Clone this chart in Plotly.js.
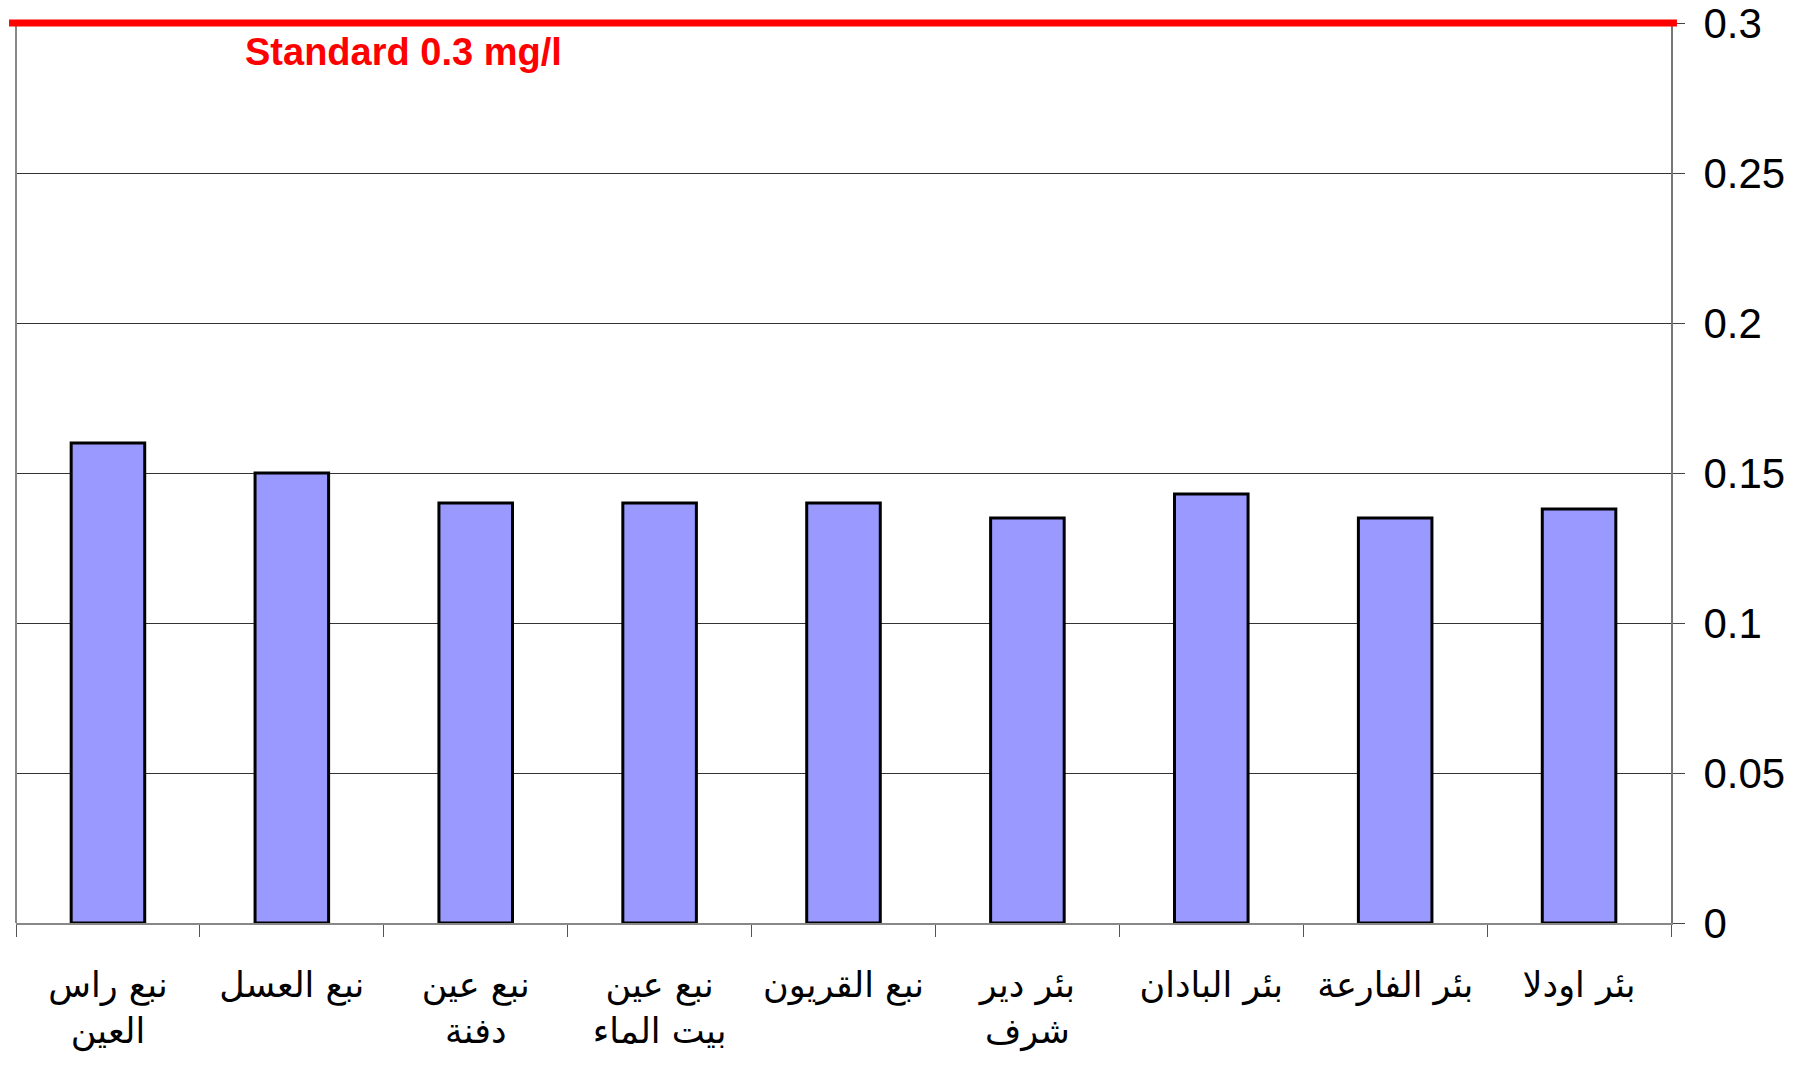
<!DOCTYPE html>
<html>
<head>
<meta charset="utf-8">
<script src="https://cdn.plot.ly/plotly-3.0.1.min.js"></script>
<style>html,body{margin:0;padding:0;background:#fff;}#chart{width:1814px;height:1072px;}</style>
</head>
<body>
<div id="chart"></div>
<script>
const categories = [
  "نبع راس<br>العين",
  "نبع العسل",
  "نبع عين<br>دفنة",
  "نبع عين<br>بيت الماء",
  "نبع القريون",
  "بئر دير<br>شرف",
  "بئر البادان",
  "بئر الفارعة",
  "بئر اودلا"
];
const ironValues = [0.16, 0.15, 0.14, 0.14, 0.14, 0.135, 0.143, 0.135, 0.138];
const standardValue = 0.3;
const standardLabel = "Standard 0.3 mg/l";
const yMax = 0.3;
const yTickValues = [0, 0.05, 0.1, 0.15, 0.2, 0.25, 0.3];
const yTickLabels = ["0", "0.05", "0.1", "0.15", "0.2", "0.25", "0.3"];

const trace = {
  type: 'bar',
  x: categories,
  y: ironValues,
  marker: {color: '#9999FF', line: {color: '#000000', width: 3}},
  hoverinfo: 'x+y'
};

const layout = {
  width: 1814,
  height: 1072,
  margin: {l: 16, r: 143, t: 23, b: 149},
  paper_bgcolor: '#ffffff',
  plot_bgcolor: '#ffffff',
  showlegend: false,
  bargap: 0.6,
  xaxis: {
    type: 'category',
    showline: true,
    linecolor: '#888888',
    linewidth: 2,
    ticks: 'outside',
    tickson: 'boundaries',
    ticklen: 12,
    tickcolor: '#555555',
    tickwidth: 1,
    showgrid: false,
    tickangle: 0,
    ticklabelstandoff: 30,
    tickfont: {family: 'DejaVu Sans, Arial, sans-serif', size: 35, color: '#000'}
  },
  yaxis: {
    side: 'right',
    range: [0, yMax * 1.0001],
    tickvals: yTickValues,
    ticktext: yTickLabels,
    showline: true,
    linecolor: '#777777',
    linewidth: 2,
    ticks: 'outside',
    ticklen: 12,
    tickcolor: '#444444',
    showgrid: true,
    gridcolor: '#333333',
    gridwidth: 1,
    zeroline: false,
    ticklabelstandoff: 10,
    ticklabeloverflow: 'allow',
    tickfont: {family: 'Liberation Sans, Arial, sans-serif', size: 42, color: '#000'}
  },
  shapes: [
    {type: 'line', xref: 'paper', yref: 'paper', x0: 0, x1: 0, y0: 0, y1: 1,
     line: {color: '#888888', width: 2}},
    {type: 'line', xref: 'paper', yref: 'paper', x0: -0.0042, x1: 1.0036,
     y0: standardValue / (yMax * 1.0001), y1: standardValue / (yMax * 1.0001),
     line: {color: '#FF0000', width: 7}}
  ],
  annotations: [
    {xref: 'paper', yref: 'y', x: 0.2344, y: 0.2903, text: standardLabel, showarrow: false,
     xanchor: 'center', yanchor: 'middle',
     font: {family: 'Liberation Sans, Arial, sans-serif', size: 38, color: '#FF0000', weight: 'bold'}}
  ]
};

Plotly.newPlot('chart', [trace], layout, {displayModeBar: false, staticPlot: true});
</script>
</body>
</html>
